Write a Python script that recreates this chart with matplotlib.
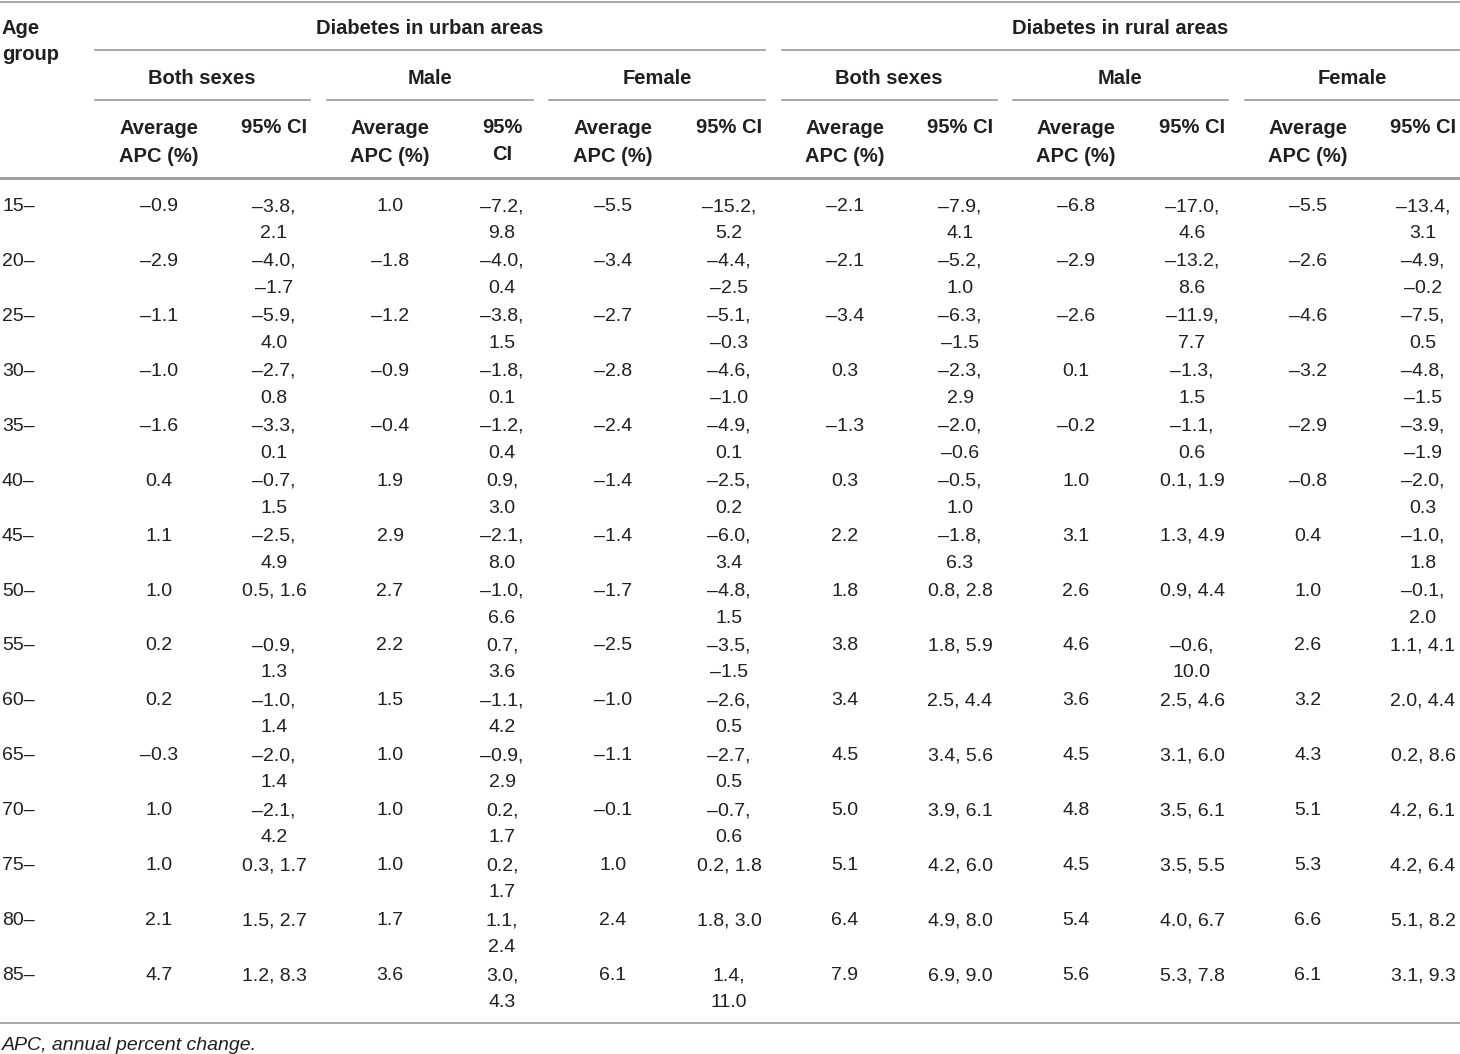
import matplotlib
matplotlib.use("Agg")
import matplotlib.pyplot as plt

# Average APC (%) and 95% CI by age group
age_groups = ["15–", "20–", "25–", "30–", "35–", "40–", "45–", "50–",
              "55–", "60–", "65–", "70–", "75–", "80–", "85–"]

urban_both_avg = [-0.9, -2.9, -1.1, -1.0, -1.6, 0.4, 1.1, 1.0, 0.2, 0.2, -0.3, 1.0, 1.0, 2.1, 4.7]
urban_both_ci = [(-3.8, 2.1), (-4.0, -1.7), (-5.9, 4.0), (-2.7, 0.8), (-3.3, 0.1), (-0.7, 1.5),
                 (-2.5, 4.9), (0.5, 1.6), (-0.9, 1.3), (-1.0, 1.4), (-2.0, 1.4), (-2.1, 4.2),
                 (0.3, 1.7), (1.5, 2.7), (1.2, 8.3)]
urban_male_avg = [1.0, -1.8, -1.2, -0.9, -0.4, 1.9, 2.9, 2.7, 2.2, 1.5, 1.0, 1.0, 1.0, 1.7, 3.6]
urban_male_ci = [(-7.2, 9.8), (-4.0, 0.4), (-3.8, 1.5), (-1.8, 0.1), (-1.2, 0.4), (0.9, 3.0),
                 (-2.1, 8.0), (-1.0, 6.6), (0.7, 3.6), (-1.1, 4.2), (-0.9, 2.9), (0.2, 1.7),
                 (0.2, 1.7), (1.1, 2.4), (3.0, 4.3)]
urban_female_avg = [-5.5, -3.4, -2.7, -2.8, -2.4, -1.4, -1.4, -1.7, -2.5, -1.0, -1.1, -0.1, 1.0, 2.4, 6.1]
urban_female_ci = [(-15.2, 5.2), (-4.4, -2.5), (-5.1, -0.3), (-4.6, -1.0), (-4.9, 0.1), (-2.5, 0.2),
                   (-6.0, 3.4), (-4.8, 1.5), (-3.5, -1.5), (-2.6, 0.5), (-2.7, 0.5), (-0.7, 0.6),
                   (0.2, 1.8), (1.8, 3.0), (1.4, 11.0)]
rural_both_avg = [-2.1, -2.1, -3.4, 0.3, -1.3, 0.3, 2.2, 1.8, 3.8, 3.4, 4.5, 5.0, 5.1, 6.4, 7.9]
rural_both_ci = [(-7.9, 4.1), (-5.2, 1.0), (-6.3, -1.5), (-2.3, 2.9), (-2.0, -0.6), (-0.5, 1.0),
                 (-1.8, 6.3), (0.8, 2.8), (1.8, 5.9), (2.5, 4.4), (3.4, 5.6), (3.9, 6.1),
                 (4.2, 6.0), (4.9, 8.0), (6.9, 9.0)]
rural_male_avg = [-6.8, -2.9, -2.6, 0.1, -0.2, 1.0, 3.1, 2.6, 4.6, 3.6, 4.5, 4.8, 4.5, 5.4, 5.6]
rural_male_ci = [(-17.0, 4.6), (-13.2, 8.6), (-11.9, 7.7), (-1.3, 1.5), (-1.1, 0.6), (0.1, 1.9),
                 (1.3, 4.9), (0.9, 4.4), (-0.6, 10.0), (2.5, 4.6), (3.1, 6.0), (3.5, 6.1),
                 (3.5, 5.5), (4.0, 6.7), (5.3, 7.8)]
rural_female_avg = [-5.5, -2.6, -4.6, -3.2, -2.9, -0.8, 0.4, 1.0, 2.6, 3.2, 4.3, 5.1, 5.3, 6.6, 6.1]
rural_female_ci = [(-13.4, 3.1), (-4.9, -0.2), (-7.5, 0.5), (-4.8, -1.5), (-3.9, -1.9), (-2.0, 0.3),
                   (-1.0, 1.8), (-0.1, 2.0), (1.1, 4.1), (2.0, 4.4), (0.2, 8.6), (4.2, 6.1),
                   (4.2, 6.4), (5.1, 8.2), (3.1, 9.3)]

area_titles = ["Diabetes in urban areas", "Diabetes in rural areas"]
sex_titles = ["Both sexes", "Male", "Female"]

TXT = "#231f20"
RULE = "#9a9a9a"
FS = 14
FSB = 14.5

plt.rcParams["font.family"] = ["Liberation Sans", "DejaVu Sans"]

fig = plt.figure(figsize=(14.6, 10.54), dpi=100)
ax = fig.add_axes([0, 0, 1, 1])
ax.set_xlim(0, 1460)
ax.set_ylim(1054, 0)
ax.axis("off")


def fmt(v):
    return f"{v:.1f}".replace("-", "\u2013")


# column layout (pixels)
avg_x = [159, 390, 613, 845, 1076, 1308]
ci_x = [274, 502, 729, 960, 1192, 1423]
sub_x = [202, 430, 657, 889, 1120, 1352]
sub_span = [(95, 310), (327, 533), (549, 765), (782, 997), (1013, 1228), (1245, 1460)]
wrap_len = [8, 7, 8, 8, 8, 8]

avgs = [urban_both_avg, urban_male_avg, urban_female_avg,
        rural_both_avg, rural_male_avg, rural_female_avg]
cis = [urban_both_ci, urban_male_ci, urban_female_ci,
       rural_both_ci, rural_male_ci, rural_female_ci]

# rules
ax.plot([0, 1460], [1.5, 1.5], color=RULE, lw=1.2)
ax.plot([95, 765], [50, 50], color=RULE, lw=1.2)
ax.plot([782, 1460], [50, 50], color=RULE, lw=1.2)
for a, b in sub_span:
    ax.plot([a, b], [100, 100], color=RULE, lw=1.2)
ax.plot([0, 1460], [178, 178], color=RULE, lw=2.0)
ax.plot([0, 1460], [1023, 1023], color=RULE, lw=1.2)

# headers
bold = dict(fontsize=FSB, weight="bold", color=TXT, va="baseline")
ax.text(2, 33.5, "Age", **bold)
ax.text(2, 60, "group", **bold)
ax.text(430, 33.5, area_titles[0], ha="center", **bold)
ax.text(1120, 33.5, area_titles[1], ha="center", **bold)
for i, x in enumerate(sub_x):
    ax.text(x, 83.5, sex_titles[i % 3], ha="center", **bold)
for i in range(6):
    ax.text(avg_x[i], 119, "Average\nAPC (%)", fontsize=FSB, weight="bold", color=TXT,
            ha="center", ma="left", va="top", linespacing=1.58)
    if i == 1:
        ax.text(ci_x[i], 133, "95%", ha="center", **bold)
        ax.text(ci_x[i], 160, "CI", ha="center", **bold)
    else:
        ax.text(ci_x[i], 133, "95% CI", ha="center", **bold)

# body
y0, pitch, lead = 211, 54.93, 27
body = dict(fontsize=FS, color=TXT, va="baseline")
for r, age in enumerate(age_groups):
    y = y0 + r * pitch
    ax.text(2, y, age, **body)
    for c in range(6):
        ax.text(avg_x[c], y, fmt(avgs[c][r]), ha="center", **body)
        lo, hi = cis[c][r]
        s = f"{fmt(lo)}, {fmt(hi)}"
        if len(s) > wrap_len[c]:
            ax.text(ci_x[c], y, fmt(lo) + ",", ha="center", **body)
            ax.text(ci_x[c], y + lead, fmt(hi), ha="center", **body)
        else:
            ax.text(ci_x[c], y, s, ha="center", **body)

ax.text(2, 1050, "APC, annual percent change.", fontsize=FS, style="italic", color=TXT, va="baseline")

fig.savefig("out.png", dpi=100)
